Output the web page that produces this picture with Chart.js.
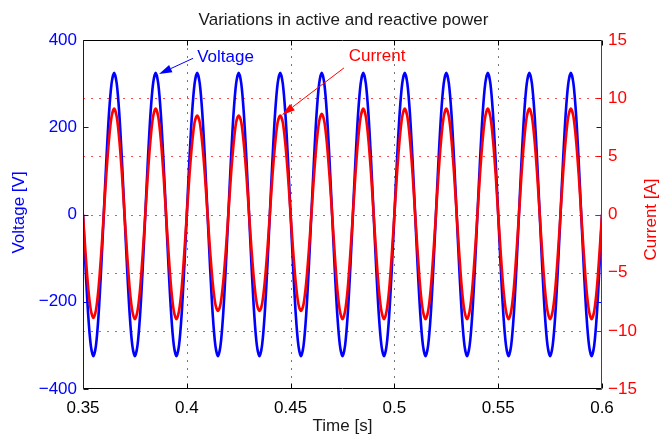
<!DOCTYPE html>
<html>
<head>
<meta charset="utf-8">
<script src="https://cdn.jsdelivr.net/npm/chart.js@4"></script>
<style>
  html, body { margin: 0; padding: 0; background: #fff; }
  canvas { display: block; }
</style>
</head>
<body>
<canvas id="chart" width="662" height="435"></canvas>
<script>
// Sampling of the time axis [s]
const T_START = 0.35;
const T_STEP = 0.00125;

// Voltage [V], one row per 20 ms cycle
const voltage = [
  0, -124, -230, -300, -325, -300, -230, -124, 0, 124, 230, 300, 325, 300, 230, 124,
  0, -124, -230, -300, -325, -300, -230, -124, 0, 124, 230, 300, 325, 300, 230, 124,
  0, -124, -230, -300, -325, -300, -230, -124, 0, 124, 230, 300, 325, 300, 230, 124,
  0, -124, -230, -300, -325, -300, -230, -124, 0, 124, 230, 300, 325, 300, 230, 124,
  0, -124, -230, -300, -325, -300, -230, -124, 0, 124, 230, 300, 325, 300, 230, 124,
  0, -124, -230, -300, -325, -300, -230, -124, 0, 124, 230, 300, 325, 300, 230, 124,
  0, -124, -230, -300, -325, -300, -230, -124, 0, 124, 230, 300, 325, 300, 230, 124,
  0, -124, -230, -300, -325, -300, -230, -124, 0, 124, 230, 300, 325, 300, 230, 124,
  0, -124, -230, -300, -325, -300, -230, -124, 0, 124, 230, 300, 325, 300, 230, 124,
  0, -124, -230, -300, -325, -300, -230, -124, 0, 124, 230, 300, 325, 300, 230, 124,
  0, -124, -230, -300, -325, -300, -230, -124, 0, 124, 230, 300, 325, 300, 230, 124,
  0, -124, -230, -300, -325, -300, -230, -124, 0, 124, 230, 300, 325, 300, 230, 124,
  0, -124, -230, -300, -325, -300, -230, -124, 0
];

// Current [A], one row per 20 ms cycle
const current = [
  0, -3.4, -6.3, -8.2, -8.9, -8.2, -6.3, -3.4, 0, 3.5, 6.4, 8.4, 9.1, 8.4, 6.4, 3.5,
  0, -3.4, -6.4, -8.3, -9.0, -8.3, -6.4, -3.4, 0, 3.5, 6.4, 8.4, 9.1, 8.4, 6.4, 3.5,
  0, -3.4, -6.4, -8.3, -9.0, -8.3, -6.4, -3.4, 0, 3.3, 6.0, 7.9, 8.5, 7.9, 6.0, 3.3,
  0, -3.2, -5.9, -7.7, -8.3, -7.7, -5.9, -3.2, 0, 3.3, 6.0, 7.9, 8.5, 7.9, 6.0, 3.3,
  0, -3.2, -5.9, -7.7, -8.3, -7.7, -5.9, -3.2, 0, 3.3, 6.0, 7.9, 8.5, 7.9, 6.0, 3.3,
  0, -3.2, -5.9, -7.7, -8.3, -7.7, -5.9, -3.2, 0, 3.3, 6.1, 8.0, 8.65, 8.0, 6.1, 3.3,
  0, -3.4, -6.4, -8.3, -9.0, -8.3, -6.4, -3.4, 0, 3.5, 6.4, 8.4, 9.1, 8.4, 6.4, 3.5,
  0, -3.4, -6.4, -8.3, -9.0, -8.3, -6.4, -3.4, 0, 3.5, 6.4, 8.4, 9.1, 8.4, 6.4, 3.5,
  0, -3.4, -6.4, -8.3, -9.0, -8.3, -6.4, -3.4, 0, 3.5, 6.4, 8.4, 9.1, 8.4, 6.4, 3.5,
  0, -3.4, -6.4, -8.3, -9.0, -8.3, -6.4, -3.4, 0, 3.5, 6.4, 8.4, 9.1, 8.4, 6.4, 3.5,
  0, -3.4, -6.4, -8.3, -9.0, -8.3, -6.4, -3.4, 0, 3.5, 6.4, 8.4, 9.1, 8.4, 6.4, 3.5,
  0, -3.4, -6.4, -8.3, -9.0, -8.3, -6.4, -3.4, 0, 3.5, 6.4, 8.4, 9.1, 8.4, 6.4, 3.5,
  0, -3.4, -6.4, -8.3, -9.0, -8.3, -6.4, -3.4, 0
];

const time = voltage.map((v, i) => T_START + i * T_STEP);

// Axis ranges
const X_RANGE = [0.35, 0.6];
const V_RANGE = [-400, 400];
const I_RANGE = [-15, 15];

// Text labels
const TITLE = 'Variations in active and reactive power';
const X_TITLE = 'Time [s]';
const V_TITLE = 'Voltage [V]';
const I_TITLE = 'Current [A]';

const BLUE = '#0000ff';
const RED = '#ff0000';
const FONT = '"Liberation Sans", Arial, Helvetica, sans-serif';

const minus = s => String(s).replace('-', '\u2212');

function line(ctx, x0, y0, x1, y1) {
  ctx.beginPath();
  ctx.moveTo(x0, y0);
  ctx.lineTo(x1, y1);
  ctx.stroke();
}

function arrow(ctx, x0, y0, x1, y1, color) {
  const ang = Math.atan2(y1 - y0, x1 - x0);
  const len = 13, half = 4;
  const bx = x1 - len * Math.cos(ang), by = y1 - len * Math.sin(ang);
  ctx.strokeStyle = color;
  ctx.fillStyle = color;
  ctx.lineWidth = 1;
  line(ctx, x0, y0, bx, by);
  ctx.beginPath();
  ctx.moveTo(x1, y1);
  ctx.lineTo(bx - half * Math.sin(ang), by + half * Math.cos(ang));
  ctx.lineTo(bx + half * Math.sin(ang), by - half * Math.cos(ang));
  ctx.closePath();
  ctx.fill();
}

// Notes with arrows, placed in data units
const notes = [
  { text: 'Voltage', color: BLUE, axis: 'y',  tip: [0.3866, 322], tail: [0.4030, 358], at: [0.4050, 360] },
  { text: 'Current', color: RED,  axis: 'y1', tip: [0.4459, 8.55], tail: [0.4757, 12.6], at: [0.4780, 13.6] }
];

const frame = {
  id: 'frame',
  beforeDatasetsDraw(chart) {
    const { ctx, chartArea: a, scales } = chart;
    ctx.save();
    ctx.lineWidth = 1;
    ctx.setLineDash([2, 6]);
    ctx.strokeStyle = '#777';
    scales.x.ticks.forEach(t => {
      if (t.value <= X_RANGE[0] || t.value >= X_RANGE[1]) return;
      const px = Math.round(scales.x.getPixelForValue(t.value)) + 0.5;
      line(ctx, px, a.top, px, a.bottom);
    });
    ctx.strokeStyle = 'rgba(255,0,0,0.7)';
    scales.y1.ticks.forEach(t => {
      if (t.value <= I_RANGE[0] || t.value >= I_RANGE[1]) return;
      const py = Math.round(scales.y1.getPixelForValue(t.value)) + 0.5;
      line(ctx, a.left, py, a.right, py);
    });
    ctx.restore();
  },
  afterDatasetsDraw(chart) {
    const { ctx, chartArea: a, scales } = chart;
    const L = a.left + 0.5, R = a.right - 0.5, T = a.top + 0.5, B = a.bottom - 0.5;
    ctx.save();
    ctx.lineWidth = 1;

    // tick marks pointing inward
    ctx.strokeStyle = '#000';
    scales.x.ticks.forEach(t => {
      const px = Math.round(scales.x.getPixelForValue(t.value)) + 0.5;
      line(ctx, px, B, px, B - 5);
      line(ctx, px, T, px, T + 5);
    });
    ctx.strokeStyle = BLUE;
    scales.y.ticks.forEach(t => {
      const py = Math.round(scales.y.getPixelForValue(t.value)) + 0.5;
      line(ctx, L, py, L + 5, py);
      line(ctx, R, py, R - 5, py);
    });
    ctx.strokeStyle = RED;
    scales.y1.ticks.forEach(t => {
      const py = Math.round(scales.y1.getPixelForValue(t.value)) + 0.5;
      line(ctx, R, py, R - 5, py);
    });

    // box
    ctx.strokeStyle = '#000';
    line(ctx, L, T, R, T);
    line(ctx, L, B, R, B);
    ctx.strokeStyle = BLUE;
    line(ctx, L, T, L, B);
    ctx.strokeStyle = '#c8004b';
    line(ctx, R, T, R, B);

    // titles
    ctx.font = '17px ' + FONT;
    ctx.textAlign = 'center';
    ctx.textBaseline = 'middle';
    ctx.fillStyle = '#1a1a1a';
    const cx = (a.left + a.right) / 2, cy = (a.top + a.bottom) / 2;
    ctx.fillText(TITLE, cx + 1, 20);
    ctx.fillText(X_TITLE, cx, 426);
    ctx.save();
    ctx.translate(19, cy - 2);
    ctx.rotate(-Math.PI / 2);
    ctx.fillStyle = BLUE;
    ctx.fillText(V_TITLE, 0, 0);
    ctx.restore();
    ctx.save();
    ctx.translate(651, cy + 5);
    ctx.rotate(-Math.PI / 2);
    ctx.fillStyle = RED;
    ctx.fillText(I_TITLE, 0, 0);
    ctx.restore();

    // notes
    notes.forEach(n => {
      const ys = scales[n.axis];
      const px = v => scales.x.getPixelForValue(v);
      arrow(ctx, px(n.tail[0]), ys.getPixelForValue(n.tail[1]),
                 px(n.tip[0]), ys.getPixelForValue(n.tip[1]), n.color);
      ctx.fillStyle = n.color;
      ctx.textAlign = 'left';
      ctx.fillText(n.text, px(n.at[0]), ys.getPixelForValue(n.at[1]));
    });
    ctx.restore();
  }
};

new Chart(document.getElementById('chart'), {
  type: 'line',
  data: {
    datasets: [
      {
        label: 'Current',
        data: time.map((t, i) => ({ x: t, y: current[i] })),
        yAxisID: 'y1',
        borderColor: RED,
        borderWidth: 2.6,
        pointRadius: 0,
        tension: 0.3,
        order: 0
      },
      {
        label: 'Voltage',
        data: time.map((t, i) => ({ x: t, y: voltage[i] })),
        yAxisID: 'y',
        borderColor: BLUE,
        borderWidth: 2.6,
        pointRadius: 0,
        tension: 0.3,
        order: 1
      }
    ]
  },
  options: {
    responsive: false,
    animation: false,
    devicePixelRatio: 1,
    layout: { padding: { top: 40, left: 0, right: 0, bottom: 0 } },
    plugins: {
      legend: { display: false },
      title: { display: false },
      tooltip: { enabled: false }
    },
    scales: {
      x: {
        type: 'linear',
        min: X_RANGE[0],
        max: X_RANGE[1],
        grid: { display: false, drawTicks: false },
        border: { display: false },
        ticks: {
          stepSize: 0.05,
          padding: 9,
          color: '#000',
          font: { family: FONT, size: 17 },
          maxRotation: 0,
          callback: v => String(+v.toFixed(2))
        },
        afterFit: s => { s.height = 46; }
      },
      y: {
        position: 'left',
        min: V_RANGE[0],
        max: V_RANGE[1],
        grid: { display: false, drawTicks: false },
        border: { display: false },
        ticks: {
          stepSize: 200,
          padding: 6,
          color: BLUE,
          font: { family: FONT, size: 17 },
          callback: v => minus(v)
        },
        afterFit: s => { s.width = 83; }
      },
      y1: {
        position: 'right',
        min: I_RANGE[0],
        max: I_RANGE[1],
        grid: { display: false, drawTicks: false },
        border: { display: false },
        ticks: {
          stepSize: 5,
          padding: 6,
          color: RED,
          font: { family: FONT, size: 17 },
          callback: v => minus(v)
        },
        afterFit: s => { s.width = 60; }
      }
    }
  },
  plugins: [frame]
});
</script>
</body>
</html>
